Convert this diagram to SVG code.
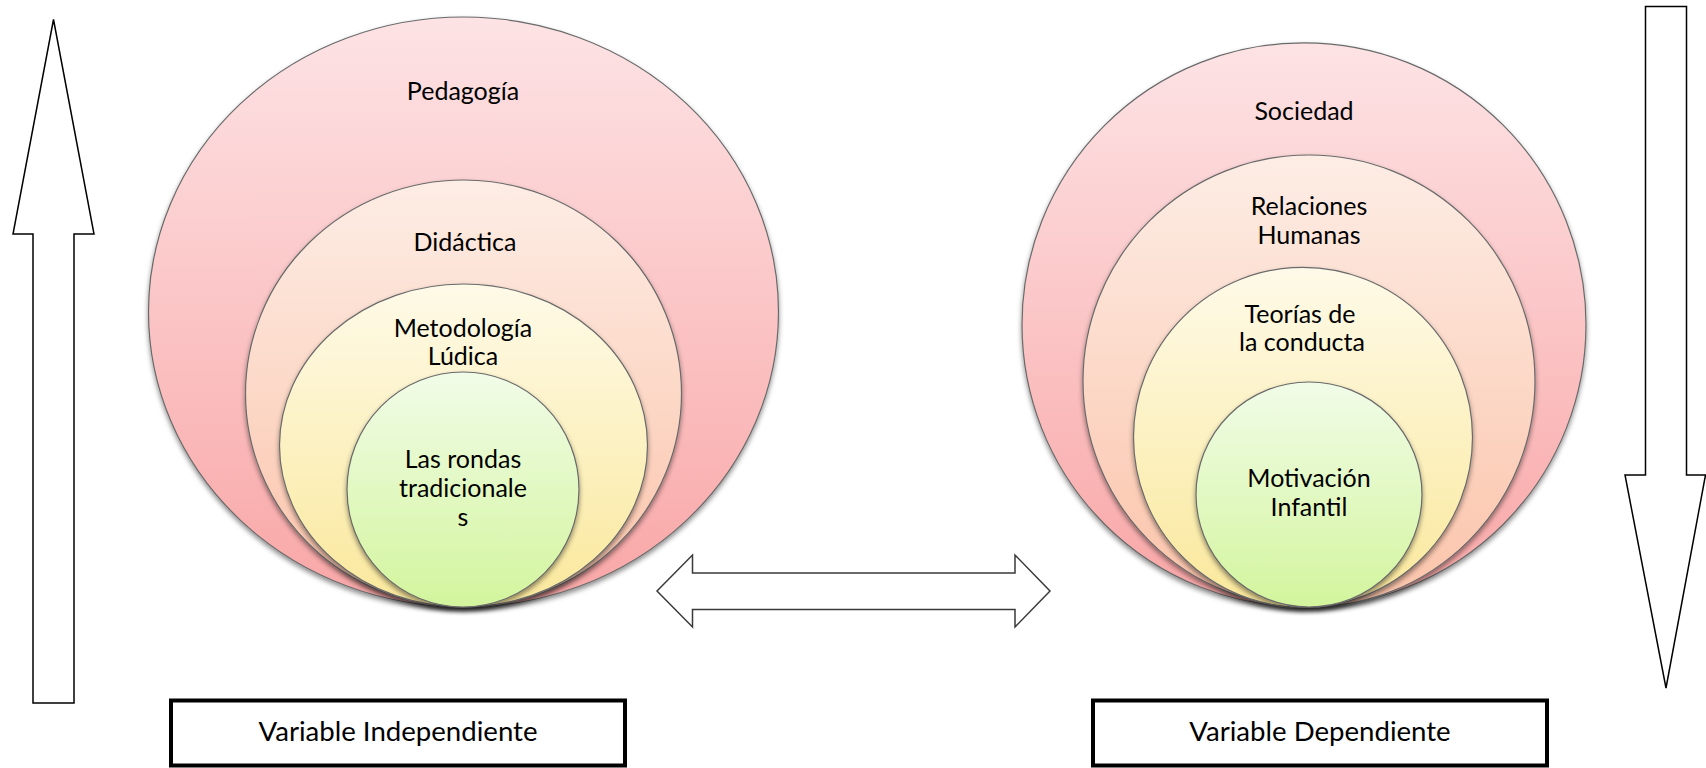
<svg xmlns="http://www.w3.org/2000/svg" width="1706" height="768" viewBox="0 0 1706 768">
<defs>
<linearGradient id="gPink" x1="0" y1="0" x2="0" y2="1"><stop offset="0" stop-color="#FDE3E5"/><stop offset="1" stop-color="#F9A6A6"/></linearGradient>
<linearGradient id="gPeach" x1="0" y1="0" x2="0" y2="1"><stop offset="0" stop-color="#FDEDE5"/><stop offset="1" stop-color="#FBC3A9"/></linearGradient>
<linearGradient id="gYellow" x1="0" y1="0" x2="0" y2="1"><stop offset="0" stop-color="#FEFAE8"/><stop offset="1" stop-color="#FAE89B"/></linearGradient>
<linearGradient id="gGreen" x1="0" y1="0" x2="0" y2="1"><stop offset="0" stop-color="#F1FCE8"/><stop offset="1" stop-color="#D3F59D"/></linearGradient>
<filter id="sh" x="-10%" y="-10%" width="120%" height="125%"><feDropShadow dx="0" dy="3" stdDeviation="2.5" flood-color="#000" flood-opacity="0.45"/></filter>
</defs>
<style>
.c{stroke:#6a6a6a;stroke-width:1.2;filter:url(#sh)}
.t{font-family:Lato,"Open Sans","Liberation Sans",sans-serif;font-size:25px;fill:#000;text-anchor:middle}
.bt{font-size:27.6px}
.arr{fill:#fff;stroke:#000;stroke-width:1.5;stroke-linejoin:miter}
.box{fill:#fff;stroke:#000;stroke-width:4}
</style>
<rect width="1706" height="768" fill="#fff"/>

<g id="left-set">
<g id="pedagogia"><ellipse class="c" cx="463.5" cy="312" rx="315" ry="295" fill="url(#gPink)"/><text class="t" x="463" y="100">Pedagogía</text></g>
<g id="didactica"><ellipse class="c" cx="463.5" cy="393.5" rx="218" ry="213.5" fill="url(#gPeach)"/><text class="t" x="465" y="251">Didáctica</text></g>
<g id="metodologia"><ellipse class="c" cx="463.5" cy="445.5" rx="184" ry="161.5" fill="url(#gYellow)"/><text class="t" x="463" y="337">Metodología</text><text class="t" x="463" y="365">Lúdica</text></g>
<g id="rondas"><ellipse class="c" cx="463" cy="489.5" rx="116" ry="117.5" fill="url(#gGreen)"/><text class="t" x="463" y="468">Las rondas</text><text class="t" x="463" y="497">tradicionale</text><text class="t" x="463" y="526">s</text></g>
</g>

<g id="right-set">
<g id="sociedad"><ellipse class="c" cx="1304" cy="324.8" rx="282" ry="282" fill="url(#gPink)"/><text class="t" x="1304" y="120">Sociedad</text></g>
<g id="relaciones"><ellipse class="c" cx="1309" cy="381" rx="226" ry="226" fill="url(#gPeach)"/><text class="t" x="1309" y="215">Relaciones</text><text class="t" x="1309" y="244">Humanas</text></g>
<g id="teorias"><ellipse class="c" cx="1303" cy="437.3" rx="169.5" ry="170" fill="url(#gYellow)"/><text class="t" x="1300" y="323">Teorías de</text><text class="t" x="1302" y="351">la conducta</text></g>
<g id="motivacion"><ellipse class="c" cx="1309" cy="494.5" rx="113" ry="112.5" fill="url(#gGreen)"/><text class="t" x="1309" y="487">Motivación</text><text class="t" x="1309" y="516">Infantil</text></g>
</g>

<g id="var-independiente"><rect class="box" x="171" y="700.5" width="454" height="65"/><text class="t bt" x="398" y="741">Variable Independiente</text></g>
<g id="var-dependiente"><rect class="box" x="1093" y="700.5" width="454" height="65"/><text class="t bt" x="1320" y="741">Variable Dependiente</text></g>

<g id="connectors">
<polygon class="arr" points="53.5,19.5 94,234 74,234 74,703 33,703 33,234 13,234"/>
<polygon class="arr" points="1645.5,6.5 1686.5,6.5 1686.5,475 1705.5,475 1666,688 1625,475 1645.5,475"/>
<polygon class="arr" style="stroke:#3a3a3a" points="657,591 692.5,555 692.5,573 1015,573 1015,555 1050,591 1015,627 1015,609.5 692.5,609.5 692.5,627"/>
</g>
</svg>
